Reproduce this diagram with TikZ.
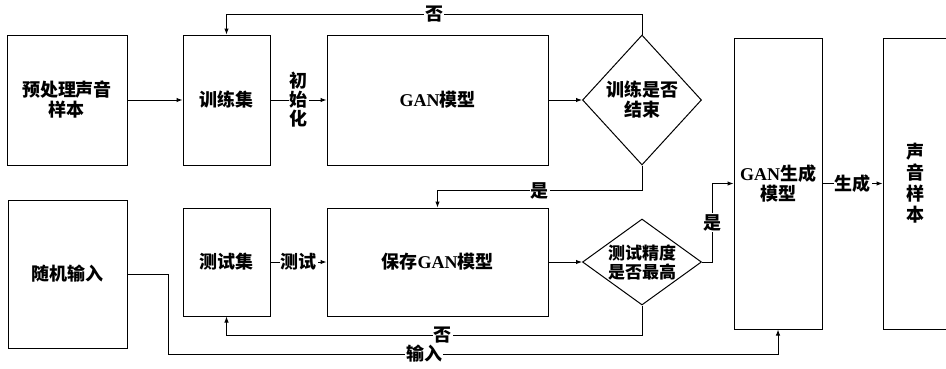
\documentclass[tikz,border=0pt]{standalone}
\usepackage{fontspec}
\setmainfont{Liberation Serif}
\newfontfamily\cjk{Noto Sans CJK SC}
\usetikzlibrary{shapes.geometric,arrows.meta}
\newcommand\ganw{{\rmfamily\bfseries GAN}}
\begin{document}
\begin{tikzpicture}[x=1pt,y=-1pt,
  every node/.style={font=\cjk\bfseries\fontsize{18}{20}\selectfont},
  box/.style={draw,line width=1pt,inner sep=0pt,align=center},
  dia/.style={draw,diamond,line width=1pt,inner sep=0pt},
  lbl/.style={fill=white,inner sep=1pt,align=center},
  ln/.style={line width=1pt},
  arr/.style={line width=1pt,-{Latex[length=6pt,width=4.5pt]}}]
\useasboundingbox (0,0) rectangle (946,368);
% top row
\node[box,minimum width=120pt,minimum height=130pt] (pre) at (67,100) {预处理声音\\样本};
\node[box,minimum width=87pt,minimum height=130pt] (train) at (226.5,100) {训练集};
\node[box,minimum width=221pt,minimum height=130pt] (gan) at (437.5,100) {\ganw 模型};
\node[dia,minimum width=119pt,minimum height=130pt] (d1) at (642,100) {};
\node[align=center] (d1t) at (d1) {训练是否\\结束};
% bottom row
\node[box,minimum width=119pt,minimum height=148pt] (rand) at (67.5,274) {随机输入};
\node[box,minimum width=87pt,minimum height=108pt] (test) at (226.5,262) {测试集};
\node[box,minimum width=221pt,minimum height=108pt] (save) at (437.5,262) {保存\ganw 模型};
\node[dia,minimum width=119pt,minimum height=86pt] (d2) at (642,262) {};
\node[align=center,font=\cjk\bfseries\fontsize{17}{19}\selectfont] (d2t) at (d2) {测试精度\\是否最高};
% right column
\node[box,minimum width=88pt,minimum height=291pt] (genm) at (778,183.5) {\ganw 生成\\模型};
\node[box,minimum width=64pt,minimum height=291pt] (out) at (915,183.5) {};
\node[align=center,font=\cjk\bfseries\fontsize{18}{21}\selectfont] (outt) at (out) {声\\音\\样\\本};
% connectors
\draw[arr] (pre.east) -- (train.west);
\draw[arr] (train.east) -- node[lbl,font=\cjk\bfseries\fontsize{18}{19}\selectfont]{初\\始\\化} (gan.west);
\draw[arr] (gan.east) -- (d1.west);
\draw[arr] (d1.north) -- ++(0,-20) -| node[lbl,pos=0.25]{否} (train.north);
\draw[arr] (d1.south) -- ++(0,25) -| node[lbl,pos=0.25]{是} (save.north);
\draw[arr] (test.east) -- node[lbl]{测试} (save.west);
\draw[arr] (save.east) -- (d2.west);
\draw[arr] (d2.south) -- ++(0,30) -| node[lbl,pos=0.24]{否} (test.south);
\draw[arr] (d2.east) -- ++(10,0) |- node[lbl,pos=0.25]{是} (genm.west);
\coordinate (r1) at (168,354);
\draw[arr] (rand.east) -| (r1) -| node[lbl,pos=0.21]{输入} (genm.south);
\draw[arr] (genm.east) -- node[lbl]{生成} (out.west);
\end{tikzpicture}
\end{document}
